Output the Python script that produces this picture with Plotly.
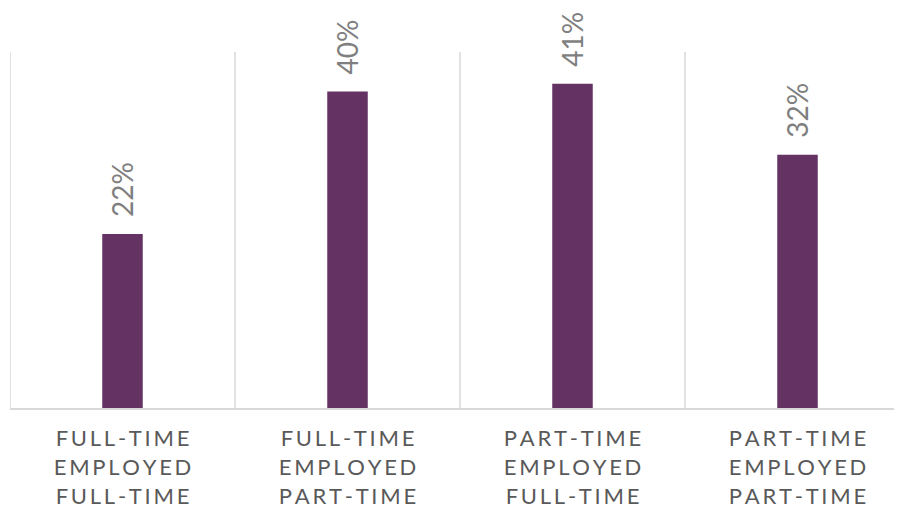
import plotly.graph_objects as go

categories = [
    "FULL-TIME<br>EMPLOYED<br>FULL-TIME",
    "FULL-TIME<br>EMPLOYED<br>PART-TIME",
    "PART-TIME<br>EMPLOYED<br>FULL-TIME",
    "PART-TIME<br>EMPLOYED<br>PART-TIME",
]
values = [0.22, 0.40, 0.41, 0.32]
value_labels = ["22%", "40%", "41%", "32%"]

SP = "\u2009"


def spaced(s):
    return "<br>".join(SP.join(list(line)) for line in s.split("<br>"))


tick_text = [spaced(c) for c in categories]
xpos = list(range(len(categories)))

fig = go.Figure()
fig.add_trace(go.Bar(
    x=xpos, y=values, width=0.18,
    marker=dict(color="#643263", line=dict(width=0)),
    hoverinfo="skip",
))

for i, (v, t) in enumerate(zip(values, value_labels)):
    fig.add_annotation(
        x=i, y=v, xref="x", yref="y", text=t, showarrow=False,
        textangle=-90, yanchor="bottom", xanchor="center", yshift=15,
        font=dict(family="Lato, sans-serif", size=28, color="#7f7f7f"),
    )

for b in [-0.5, 0.5, 1.5, 2.5, 3.5]:
    fig.add_shape(type="line", xref="x", yref="paper", x0=b, x1=b, y0=0, y1=1,
                  line=dict(color="#d9d9d9", width=1.5))

fig.update_layout(
    width=894, height=500,
    margin=dict(l=2, r=0, t=44, b=100),
    paper_bgcolor="white", plot_bgcolor="white",
    showlegend=False,
    xaxis=dict(
        range=[-0.5, 3.5 - 8 / 225],
        tickmode="array", tickvals=xpos, ticktext=tick_text,
        showgrid=False, zeroline=False,
        showline=True, linecolor="#d9d9d9", linewidth=2,
        ticks="", ticklabelstandoff=10,
        tickfont=dict(family="Lato, sans-serif", size=22, color="#595959"),
    ),
    yaxis=dict(
        range=[0, 0.45], visible=False, showgrid=False, zeroline=False,
    ),
)

fig.write_html("out.html")
